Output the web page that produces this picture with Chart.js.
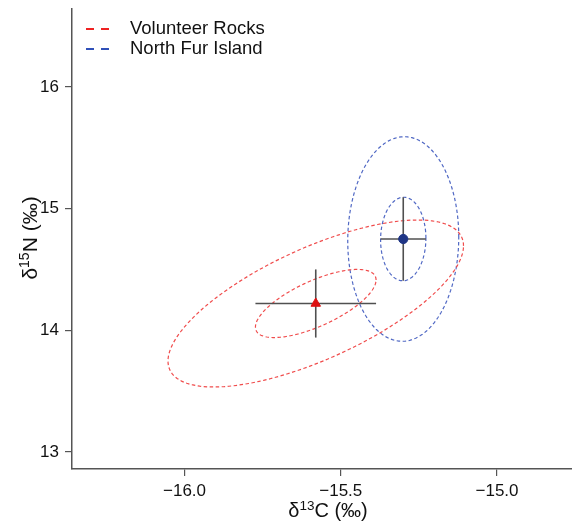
<!DOCTYPE html>
<html lang="en">
<head>
  <meta charset="UTF-8">
  <title>Isotope ellipses</title>
  <script src="https://cdn.jsdelivr.net/npm/chart.js"></script>
  <style>
    body { margin: 0; background: #fff; }
    #wrap { width: 572px; height: 528px; }
  </style>
</head>
<body>
  <div id="wrap"><canvas id="isoChart" width="572" height="528"></canvas></div>

  <script>
    // values
    const groups = ['Volunteer Rocks', 'North Fur Island'];
    const meanC = [-15.58, -15.30];
    const meanN = [14.22, 14.75];
    const sdC = [0.193, 0.0725];
    const sdN = [0.28, 0.343];
    const corrCN = [0.69, 0.02];
    const ellipseSizes = [1, 2.45];   // SD ellipse and the larger one
    const xTicks = [-16.0, -15.5, -15.0];
    const yTicks = [13, 14, 15, 16];

    const lineColors = ['#f04c4c', '#5068c4'];
    const legendColors = ['#ee2222', '#3050b8'];
    const markerFill = ['#dd1111', '#1f3585'];
    const markerStyle = ['triangle', 'circle'];
    const FONT = '"Liberation Sans", Arial, Helvetica, sans-serif';

    function ellipsePoints(i, k) {
      const phi = Math.acos(corrCN[i]);
      const pts = [];
      for (let j = 0; j <= 160; j++) {
        const t = 2 * Math.PI * j / 160;
        pts.push({ x: meanC[i] + k * sdC[i] * Math.cos(t), y: meanN[i] + k * sdN[i] * Math.cos(t - phi) });
      }
      return pts;
    }

    const datasets = [];
    groups.forEach((g, i) => {
      ellipseSizes.forEach(k => {
        datasets.push({
          label: g, data: ellipsePoints(i, k), showLine: true, borderColor: lineColors[i],
          borderWidth: 1.2, borderDash: [3.5, 2.5], pointRadius: 0, fill: false, order: 3
        });
      });
      // error bars (+/- 1 SD)
      datasets.push({
        data: [{ x: meanC[i] - sdC[i], y: meanN[i] }, { x: meanC[i] + sdC[i], y: meanN[i] }],
        showLine: true, borderColor: '#505050', borderWidth: 1.6, pointRadius: 0, order: 2
      });
      datasets.push({
        data: [{ x: meanC[i], y: meanN[i] - sdN[i] }, { x: meanC[i], y: meanN[i] + sdN[i] }],
        showLine: true, borderColor: '#505050', borderWidth: 1.6, pointRadius: 0, order: 2
      });
      datasets.push({
        data: [{ x: meanC[i], y: meanN[i] }], pointStyle: markerStyle[i],
        pointRadius: i === 0 ? 5.5 : 4.6, backgroundColor: markerFill[i],
        borderColor: markerFill[i], borderWidth: 1, order: 1
      });
    });

    // legend + axis titles with superscripts
    const extras = {
      id: 'extras',
      afterDraw(chart) {
        const ctx = chart.ctx;
        ctx.save();
        groups.forEach((g, i) => {
          const y = 29 + i * 20;
          ctx.strokeStyle = legendColors[i];
          ctx.lineWidth = 2;
          ctx.setLineDash([8, 7]);
          ctx.beginPath(); ctx.moveTo(86, y); ctx.lineTo(109, y); ctx.stroke();
          ctx.setLineDash([]);
          ctx.fillStyle = '#111';
          ctx.font = '18.5px ' + FONT;
          ctx.textBaseline = 'middle';
          ctx.textAlign = 'left';
          ctx.fillText(g, 130, y);
        });

        function supLabel(parts, cx, baseY) {
          ctx.textBaseline = 'alphabetic';
          ctx.textAlign = 'left';
          let w = 0;
          parts.forEach(p => { ctx.font = p.size + 'px ' + FONT; w += ctx.measureText(p.t).width; });
          let x = cx - w / 2;
          parts.forEach(p => {
            ctx.font = p.size + 'px ' + FONT;
            ctx.fillText(p.t, x, baseY - p.rise);
            x += ctx.measureText(p.t).width;
          });
        }
        ctx.fillStyle = '#111';
        supLabel([{ t: 'δ', size: 20, rise: 0 }, { t: '13', size: 13.5, rise: 7.5 }, { t: 'C (‰)', size: 20, rise: 0 }],
          328, 517);
        ctx.save();
        ctx.translate(37, 238);
        ctx.rotate(-Math.PI / 2);
        supLabel([{ t: 'δ', size: 21, rise: 0 }, { t: '15', size: 14, rise: 8 }, { t: 'N (‰)', size: 21, rise: 0 }], 0, 0);
        ctx.restore();
        ctx.restore();
      }
    };

    const axisColor = '#555';
    new Chart(document.getElementById('isoChart'), {
      type: 'scatter',
      data: { datasets },
      options: {
        responsive: false,
        animation: false,
        layout: { autoPadding: false, padding: { top: 9, right: 0, left: 0, bottom: 0 } },
        plugins: { legend: { display: false }, tooltip: { enabled: false } },
        scales: {
          x: {
            type: 'linear', min: -16.36, max: -14.76,
            afterBuildTicks: s => { s.ticks = xTicks.map(v => ({ value: v })); },
            afterFit: s => { s.height = 59; s.paddingLeft = 0; s.paddingRight = 0; },
            border: { display: true, color: axisColor, width: 1.5 },
            grid: { drawOnChartArea: false, drawTicks: true, tickLength: 7, color: axisColor, lineWidth: 1.2 },
            ticks: {
              padding: 5, color: '#111', font: { size: 17, family: FONT },
              callback: v => '\u2212' + Math.abs(v).toFixed(1)
            }
          },
          y: {
            type: 'linear', min: 12.86, max: 16.64,
            afterBuildTicks: s => { s.ticks = yTicks.map(v => ({ value: v })); },
            afterFit: s => { s.width = 72; s.paddingTop = 0; s.paddingBottom = 0; },
            border: { display: true, color: axisColor, width: 1.5 },
            grid: { drawOnChartArea: false, drawTicks: true, tickLength: 7, color: axisColor, lineWidth: 1.2 },
            ticks: {
              padding: 6, color: '#111', font: { size: 17, family: FONT },
              callback: v => String(v)
            }
          }
        }
      },
      plugins: [extras]
    });
  </script>
</body>
</html>
